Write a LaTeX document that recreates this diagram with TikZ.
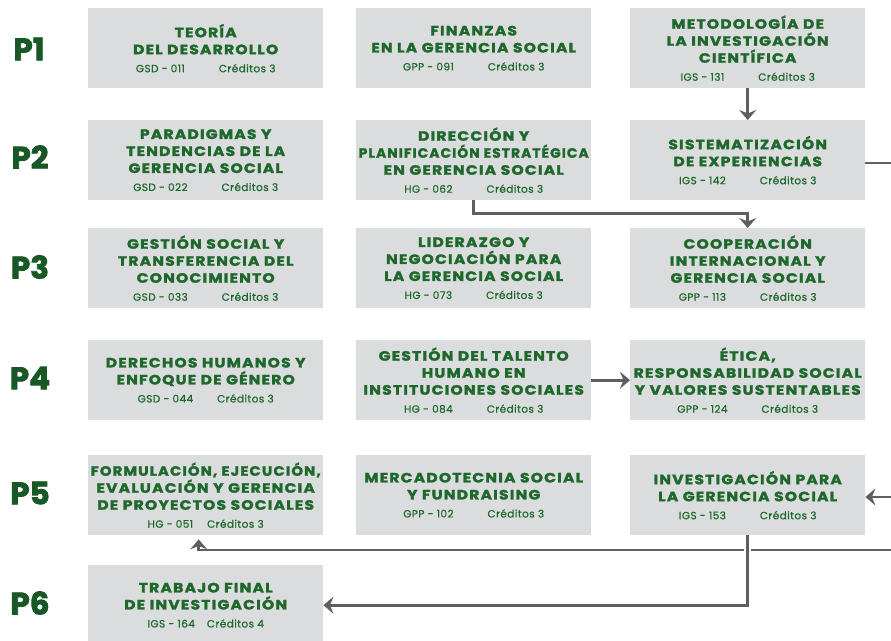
\documentclass[tikz,border=0pt]{standalone}
\usepackage{fontspec}
\usepackage{graphicx}
\setmainfont{Poppins}
\newfontfamily\titlef{Poppins}[LetterSpace=9, FakeStretch=1.15, FakeBold=2]
\newfontfamily\codef{Poppins}[LetterSpace=4, FakeBold=0.6]
\newfontfamily\plabf{Poppins}[FakeBold=2.5]
\usetikzlibrary{arrows.meta}
\definecolor{boxgray}{RGB}{219,220,221}
\definecolor{dgreen}{RGB}{30,104,44}
\definecolor{pgreen}{RGB}{24,88,38}
\definecolor{lgray}{RGB}{95,95,95}
\newcommand{\cde}[3][34pt]{{\codef\mdseries\fontsize{10.5}{11}\selectfont #2\hspace{#1}#3}}
\newcommand{\fl}[1]{\sbox0{#1}\ifdim\wd0>230pt \resizebox{230pt}{\height}{#1}\else\usebox0\fi}
\tikzset{
  course/.style={fill=boxgray, minimum width=235pt, minimum height=80pt, inner sep=0pt,
    anchor=north west, align=center, text=dgreen,
    font=\titlef\bfseries\fontsize{13.5}{17}\selectfont},
  plabel/.style={text=pgreen, font=\plabf\bfseries\fontsize{31}{31}\selectfont, anchor=center},
  conn/.style={draw=lgray, line width=2.6pt},
  arr/.style={conn, -{Stealth[length=10pt, width=17pt, inset=3.5pt]}},
}
\begin{document}
\begin{tikzpicture}[x=1pt,y=-1pt]
\useasboundingbox (0,0) rectangle (891,640);
\fill[white] (0,0) rectangle (891,640);
% period labels
\node[plabel] (p1) at (29,49) {P1};
\node[plabel] (p2) at (30,157) {P2};
\node[plabel] (p3) at (30,267) {P3};
\node[plabel] (p4) at (30,378) {P4};
\node[plabel] (p5) at (30,493) {P5};
\node[plabel] (p6) at (30,603) {P6};
% row 1
\node[course] (c11) at (88,8) {TEORÍA\\DEL DESARROLLO\\[1pt]\cde{GSD - 011}{Créditos 3}};
\node[course] (c12) at (356,8) {FINANZAS\\\fl{EN LA GERENCIA SOCIAL}\\[1pt]\cde{GPP - 091}{Créditos 3}};
\node[course] (c13) at (630,8) {METODOLOGÍA DE\\LA INVESTIGACIÓN\\CIENTÍFICA\\[1pt]\cde{IGS - 131}{Créditos 3}};
% row 2
\node[course] (c21) at (88,120) {PARADIGMAS Y\\TENDENCIAS DE LA\\GERENCIA SOCIAL\\[1pt]\cde{GSD - 022}{Créditos 3}};
\node[course] (c22) at (356,120) {DIRECCIÓN Y\\\fl{PLANIFICACIÓN ESTRATÉGICA}\\\fl{EN GERENCIA SOCIAL}\\[1pt]\cde{HG - 062}{Créditos 3}};
\node[course] (c23) at (630,120) {SISTEMATIZACIÓN\\DE EXPERIENCIAS\\[1pt]\cde{IGS - 142}{Créditos 3}};
% row 3
\node[course] (c31) at (88,228) {\fl{GESTIÓN SOCIAL Y}\\\fl{TRANSFERENCIA DEL}\\CONOCIMIENTO\\[1pt]\cde{GSD - 033}{Créditos 3}};
\node[course] (c32) at (356,228) {LIDERAZGO Y\\\fl{NEGOCIACIÓN PARA}\\\fl{LA GERENCIA SOCIAL}\\[1pt]\cde{HG - 073}{Créditos 3}};
\node[course] (c33) at (630,228) {COOPERACIÓN\\\fl{INTERNACIONAL Y}\\\fl{GERENCIA SOCIAL}\\[1pt]\cde{GPP - 113}{Créditos 3}};
% row 4
\node[course] (c41) at (88,340) {\fl{DERECHOS HUMANOS Y}\\\fl{ENFOQUE DE GÉNERO}\\[1pt]\cde[24pt]{GSD - 044}{Créditos 3}};
\node[course] (c42) at (356,340) {\fl{GESTIÓN DEL TALENTO}\\HUMANO EN\\\fl{INSTITUCIONES SOCIALES}\\[1pt]\cde{HG - 084}{Créditos 3}};
\node[course] (c43) at (630,340) {ÉTICA,\\\fl{RESPONSABILIDAD SOCIAL}\\\fl{Y VALORES SUSTENTABLES}\\[1pt]\cde{GPP - 124}{Créditos 3}};
% row 5
\node[course] (c51) at (88,455) {\fl{FORMULACIÓN, EJECUCIÓN,}\\\fl{EVALUACIÓN Y GERENCIA}\\\fl{DE PROYECTOS SOCIALES}\\[1pt]\cde[14pt]{HG - 051}{Créditos 3}};
\node[course] (c52) at (356,455) {\fl{MERCADOTECNIA SOCIAL}\\Y FUNDRAISING\\[1pt]\cde{GPP - 102}{Créditos 3}};
\node[course] (c53) at (630,455) {\fl{INVESTIGACIÓN PARA}\\\fl{LA GERENCIA SOCIAL}\\[1pt]\cde{IGS - 153}{Créditos 3}};
% row 6
\node[course] (c61) at (88,565) {TRABAJO FINAL\\DE INVESTIGACIÓN\\[1pt]\cde[12pt]{IGS - 164}{Créditos 4}};
% free ends at the right border
\coordinate (eA) at (891,163);
\coordinate (eB) at (891,497);
\coordinate (eC) at (891,550);
% connectors
\draw[arr] (c13.south) -- (c23.north);
\draw[arr] (c22.south) -- ++(0,13) -| (c33.north);
\draw[conn] (c23.east |- eA) -- (eA);
\draw[arr] (c42.east) -- (c43.west);
\draw[arr] (eB) -- (eB -| c53.east);
\draw[arr, shorten >=4pt] (eC) -| ([xshift=-7pt]c51.south);
\draw[arr, preaction={draw=white, line width=7pt, -}] (c53.south) |- (c61.east);
\end{tikzpicture}
\end{document}
